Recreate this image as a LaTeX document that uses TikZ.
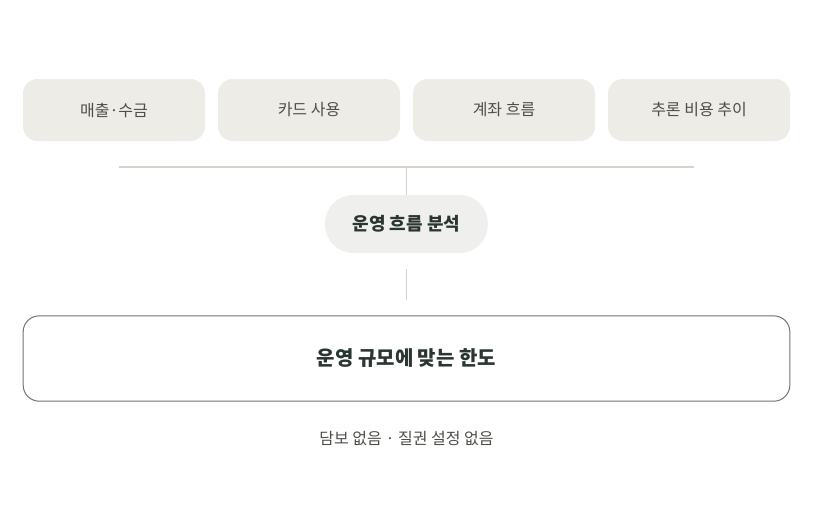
\documentclass[tikz,border=0pt]{standalone}
\usepackage{fontspec}
\setmainfont{Noto Sans CJK KR}
\usepackage{xcolor}
\usetikzlibrary{positioning}
\definecolor{chipfill}{HTML}{EEECE7}
\definecolor{pillfill}{HTML}{EFF0ED}
\definecolor{linegray}{HTML}{D6D1CA}
\definecolor{boxline}{HTML}{6E7572}
\definecolor{darktext}{HTML}{2C3631}
\definecolor{softtext}{HTML}{4F4D49}

\begin{document}
\begin{tikzpicture}[x=0.75pt, y=-0.75pt, every node/.style={font=\fontsize{12}{14}\selectfont}]
    \useasboundingbox (0,0) rectangle (814,529);
    \tikzset{
        source/.style={fill=chipfill, rounded corners=11pt, minimum width=136.5pt, minimum height=46.5pt, inner sep=0pt, text=softtext},
        link/.style={draw=linegray, line width=0.9pt}
    }

    % Data sources
    \node[source] (s1) at (114,110) {매출·수금};
    \node[source] (s2) at (309,110) {카드 사용};
    \node[source] (s3) at (504,110) {계좌 흐름};
    \node[source] (s4) at (699,110) {추론 비용 추이};

    % Collecting line
    \coordinate (barL) at (119,167);
    \coordinate (barR) at (694,167);
    \draw[link] (barL) -- (barR);

    % Analysis
    \node[fill=pillfill, rounded corners=21pt, minimum width=122pt, minimum height=43.5pt, inner sep=0pt, text=darktext, font=\fontsize{13.5}{16}\selectfont\bfseries] (ana) at (406.5,224) {운영 흐름 분석};
    \draw[link] (ana.north |- barL) -- (ana.north);

    % Limit
    \node[draw=boxline, line width=0.75pt, fill=white, rounded corners=12pt, minimum width=575pt, minimum height=64pt, inner sep=0pt, text=darktext, font=\fontsize{15}{18}\selectfont\bfseries] (lim) at (406.5,358.5) {운영 규모에 맞는 한도};
    \coordinate (gapT) at (406.5,269);
    \coordinate (gapB) at (406.5,300);
    \draw[link] (gapT) -- (gapB);

    % Note
    \node[text=softtext, below=19pt of lim] (note) {담보 없음 · 질권 설정 없음};
\end{tikzpicture}
\end{document}
